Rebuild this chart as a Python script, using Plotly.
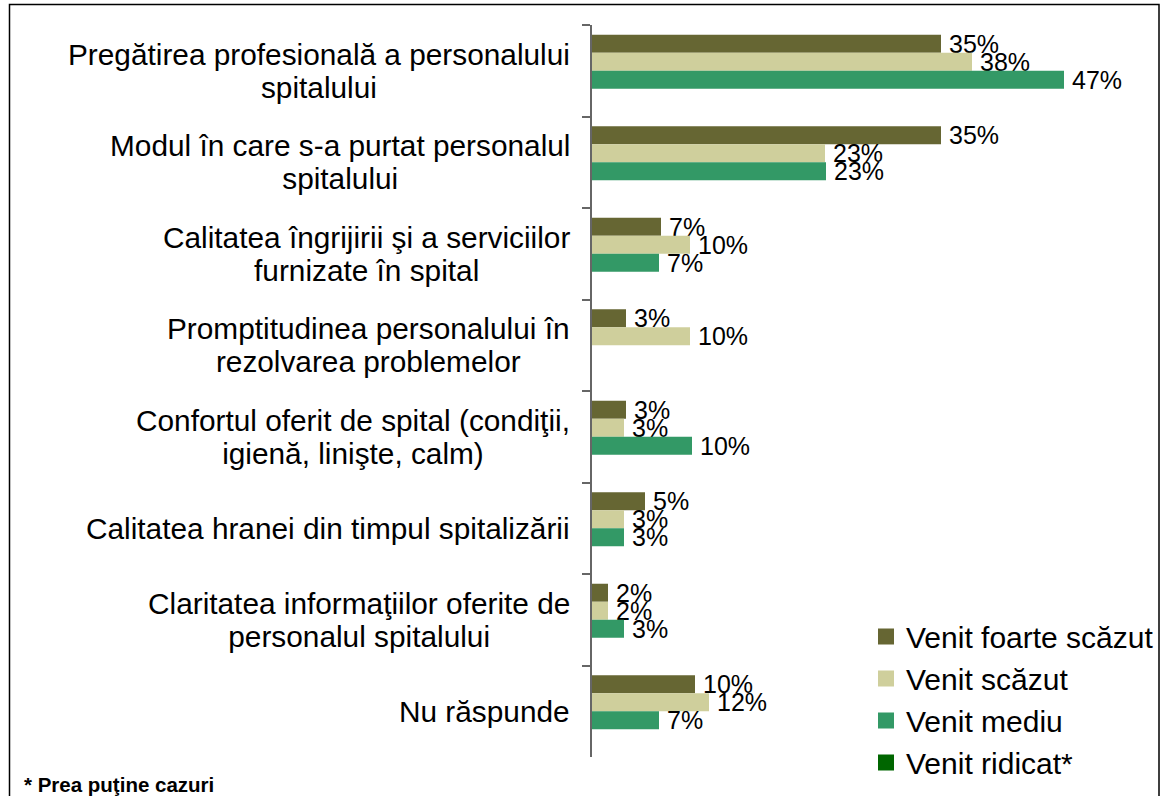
import plotly.graph_objects as go

categories = [
    "Pregătirea profesională a personalului<br>spitalului",
    "Modul în care s-a purtat personalul<br>spitalului",
    "Calitatea îngrijirii şi a serviciilor<br>furnizate în spital",
    "Promptitudinea personalului în<br>rezolvarea problemelor",
    "Confortul oferit de spital (condiţii,<br>igienă, linişte, calm)",
    "Calitatea hranei din timpul spitalizării",
    "Claritatea informaţiilor oferite de<br>personalul spitalului",
    "Nu răspunde",
]
series_names = ["Venit foarte scăzut", "Venit scăzut", "Venit mediu", "Venit ridicat*"]
venit_foarte_scazut = [34.9, 34.9, 6.9, 3.4, 3.4, 5.3, 1.6, 10.3]
venit_scazut = [38.0, 23.3, 9.8, 9.8, 3.2, 3.2, 1.6, 11.7]
venit_mediu = [47.2, 23.4, 6.7, None, 10.0, 3.2, 3.2, 6.7]
venit_ridicat = [None, None, None, None, None, None, None, None]
footnote = "* Prea puţine cazuri"

colors = ["#666633", "#CFCF9C", "#339966", "#006600"]
FONT = "Liberation Sans, Arial, sans-serif"

W, H = 1162, 796
L, R, T, B = 592, 1110, 25, 757


def fx(px):
    return (px - L) / (R - L)


def fy(py):
    return (B - py) / (B - T)


fig = go.Figure()
for name, vals, col in zip(series_names,
                           [venit_foarte_scazut, venit_scazut, venit_mediu, venit_ridicat],
                           colors):
    fig.add_trace(go.Bar(
        y=categories, x=vals, orientation="h", name=name,
        marker=dict(color=col, line=dict(width=0)),
        texttemplate="\u2009%{x:.0f}%", textposition="outside",
        textfont=dict(family=FONT, size=25, color="black"),
        constraintext="none", cliponaxis=False, showlegend=False,
    ))
    # legend proxy with a larger square swatch
    fig.add_trace(go.Scatter(
        x=[None], y=[None], mode="markers", name=name,
        marker=dict(symbol="square", size=18, color=col), showlegend=True,
    ))

annotations = []
for c in categories:
    annotations.append(dict(
        x=fx(572), xref="paper", y=c, yref="y",
        text=f'<span style="font-size:29.8px">{c}</span>',
        showarrow=False, xanchor="right", yanchor="middle", align="center",
        font=dict(family=FONT, size=25.4, color="black"),
    ))
annotations.append(dict(
    x=fx(22), xref="paper", y=fy(784), yref="paper", text=f"<b>{footnote}</b>",
    showarrow=False, xanchor="left", yanchor="middle",
    font=dict(family=FONT, size=20.5, color="black"),
))

fig.update_layout(
    width=W, height=H,
    margin=dict(l=L, r=W - R, t=T, b=H - B, pad=0, autoexpand=False),
    paper_bgcolor="white", plot_bgcolor="white",
    barmode="group", bargap=0.213, bargroupgap=0,
    font=dict(family=FONT, color="black"),
    xaxis=dict(range=[0, 51.8], visible=False, fixedrange=True),
    yaxis=dict(type="category", autorange="reversed", showticklabels=False,
               ticks="outside", tickson="boundaries", ticklen=8, tickcolor="#666666",
               tickwidth=1.5, showline=True, linecolor="#666666", linewidth=1.5,
               showgrid=False, zeroline=False, fixedrange=True),
    legend=dict(x=fx(866), y=fy(610.5), xanchor="left", yanchor="top",
                xref="paper", yref="paper",
                font=dict(family=FONT, size=30, color="black"),
                bgcolor="rgba(0,0,0,0)", borderwidth=0, itemsizing="trace"),
    annotations=annotations,
    shapes=[dict(type="rect", xref="paper", yref="paper",
                 x0=fx(9.5), x1=fx(1159), y0=fy(820), y1=fy(4.5),
                 line=dict(color="black", width=1.5), fillcolor="rgba(0,0,0,0)",
                 layer="above")],
)

fig.write_html("out.html", config={"displayModeBar": False},
               post_script="document.body.style.margin='0';document.body.style.overflow='hidden';")
